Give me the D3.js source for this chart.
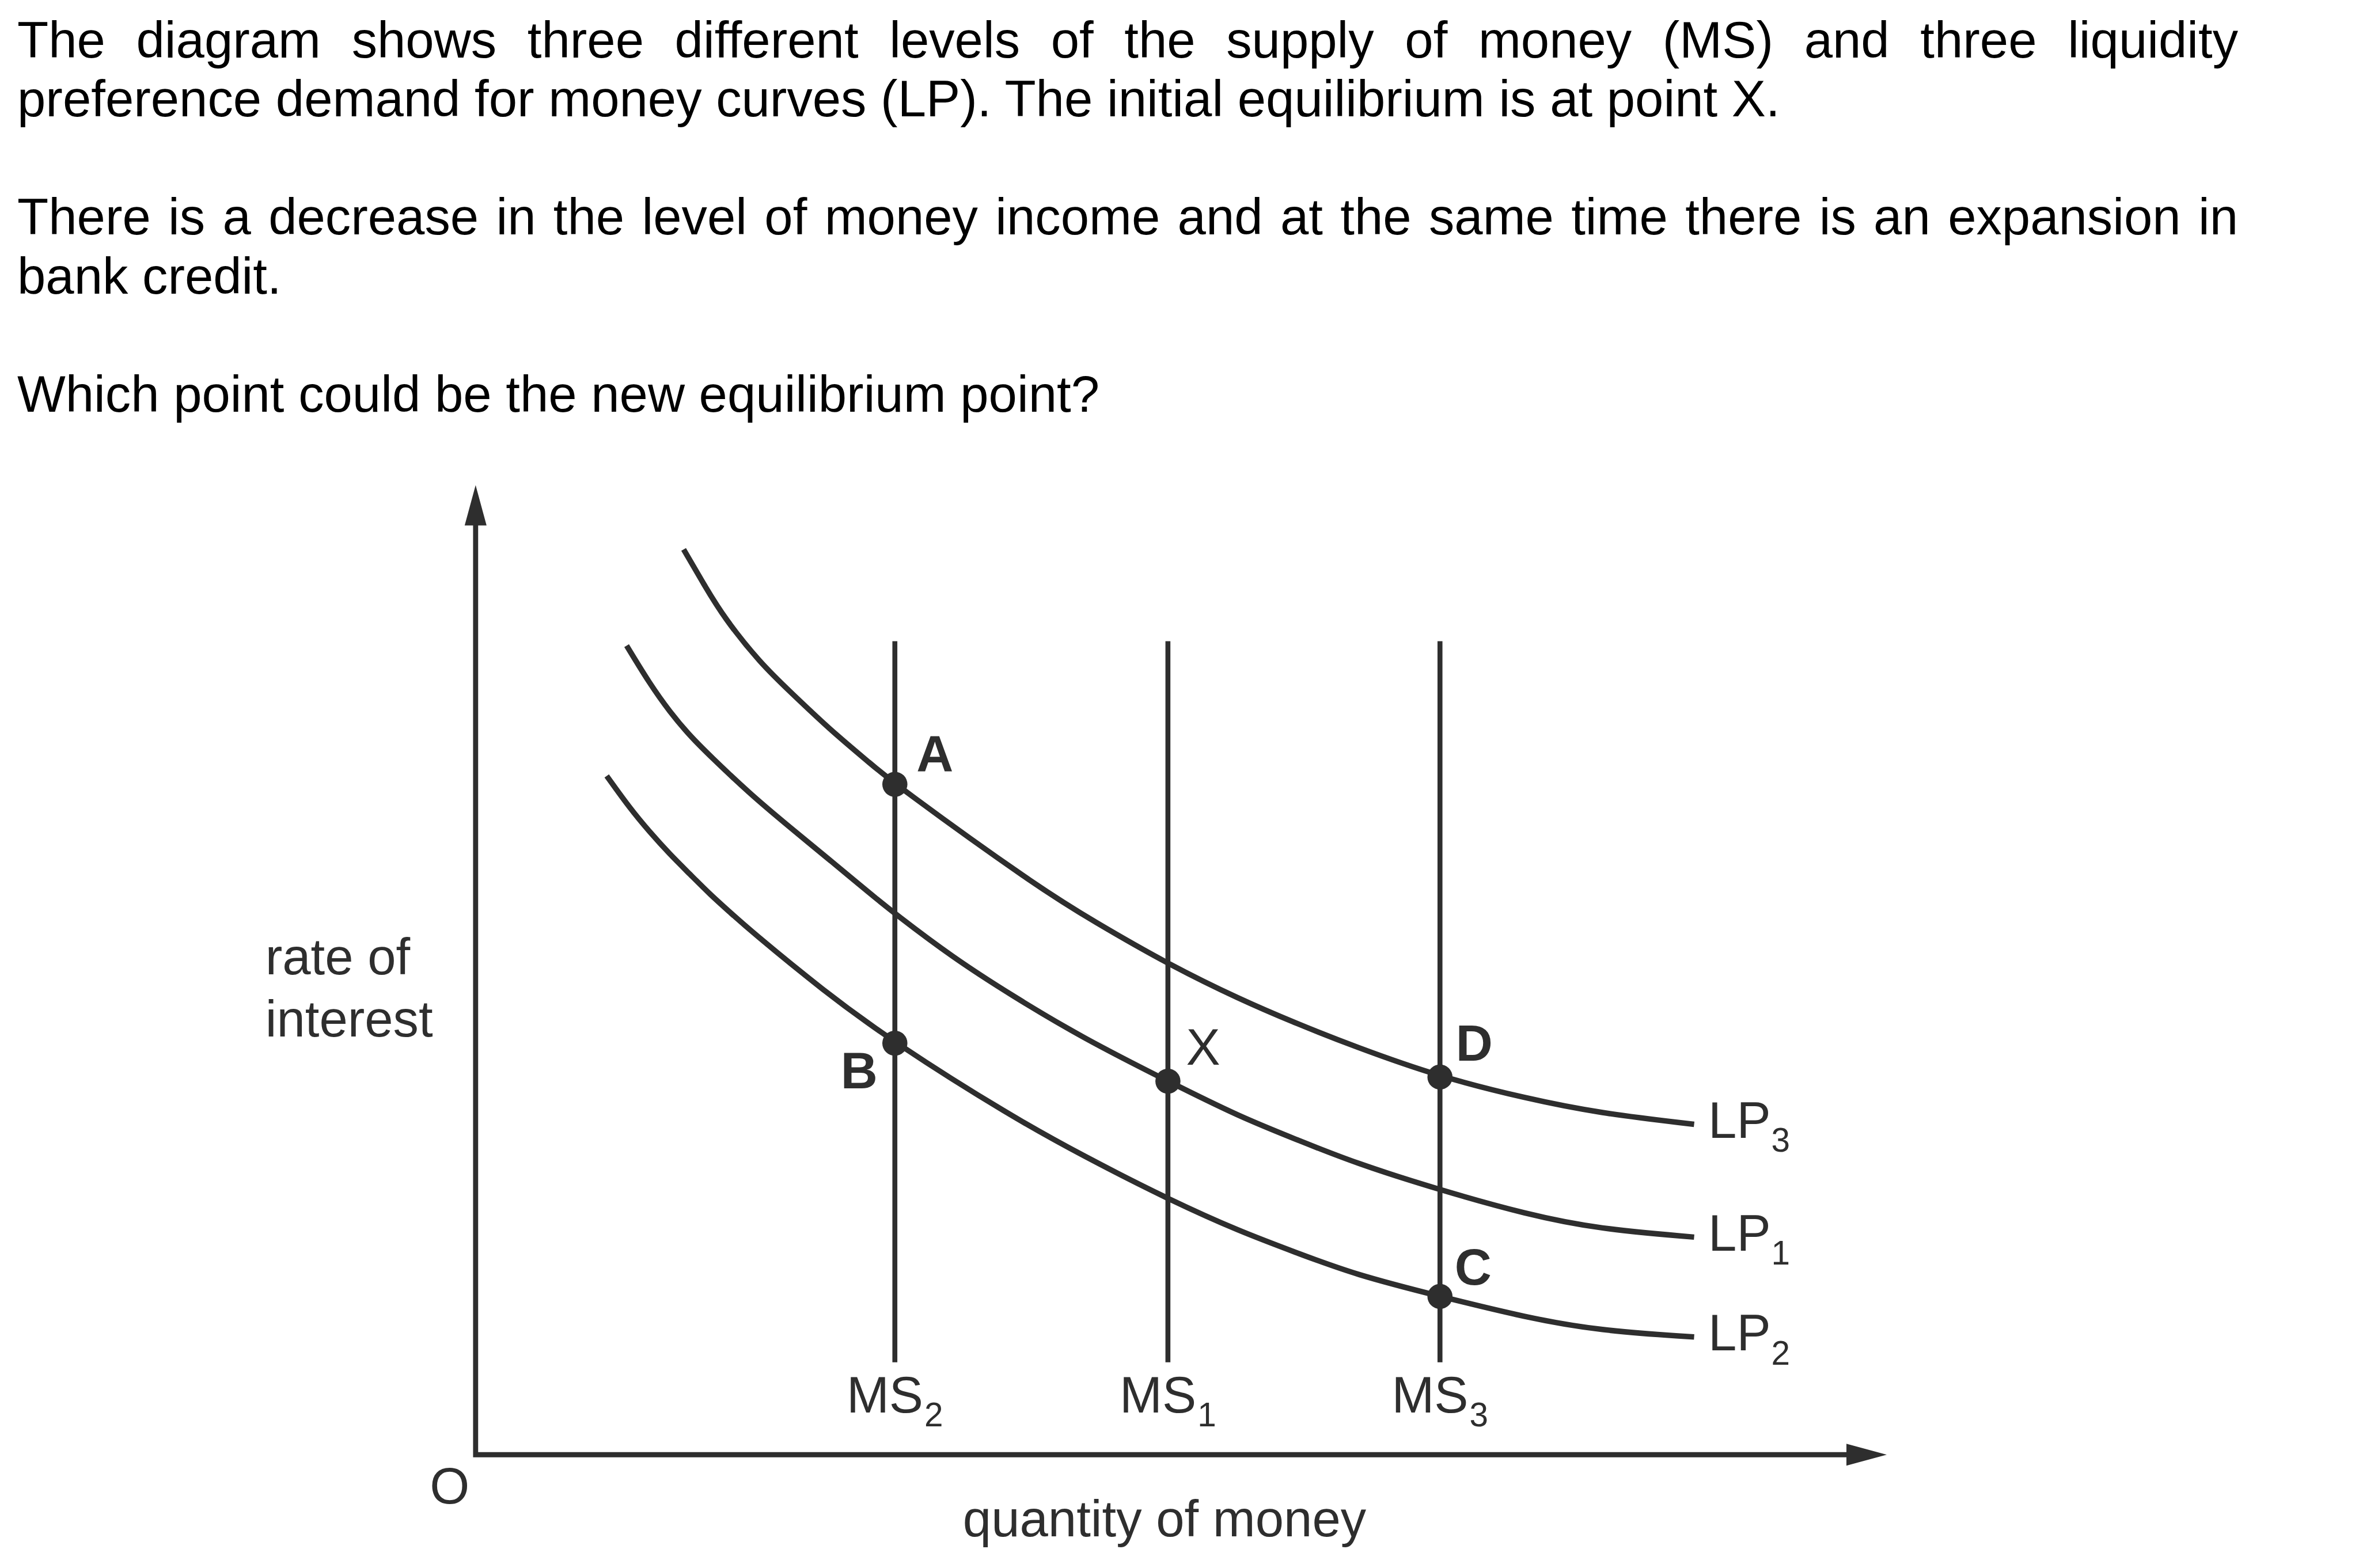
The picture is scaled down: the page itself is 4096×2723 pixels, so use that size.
<!DOCTYPE html>
<html>
<head>
<meta charset="utf-8">
<script src="https://cdn.jsdelivr.net/npm/d3@7"></script>
<style>
  html, body { margin: 0; padding: 0; background: #ffffff; }
  svg { display: block; }
</style>
</head>
<body>
<script>
// ---------------- data ----------------
const questionLines = [
  "The diagram shows three different levels of the supply of money (MS) and three liquidity",
  "preference demand for money curves (LP). The initial equilibrium is at point X.",
  "There is a decrease in the level of money income and at the same time there is an expansion in",
  "bank credit.",
  "Which point could be the new equilibrium point?"
];
const questionJustified = [true, false, true, false, false];
const questionLineIndex = [0, 1, 3, 4, 6];   // line slots (blank slots are paragraph gaps)

const msNames = ["MS", "MS", "MS"];
const msSubs = ["2", "1", "3"];
const msValues = [29.71, 49.06, 68.34];
const msExtent = [9.53, 83.9];

const lpNames = ["LP", "LP", "LP"];
const lpSubs = ["3", "1", "2"];
const lp3 = [[14.74,93.36],[16.2,89.7],[17.60,86.33],[20.2,81.6],[22.29,78.69],[25.13,74.75],
             [27.97,71.3],[29.71,69.14],[39.77,58.6],[43.81,55.0],[49.06,50.6],[54.16,46.96],
             [58.22,44.44],[62.28,42.10],[68.34,38.95],[74.49,36.73],[79.57,35.23],[86.35,34.07]];
const lp1 = [[10.70,83.44],[12.34,79.51],[13.76,76.61],[15.19,74.13],[16.61,72.07],[19.45,68.14],
             [22.29,64.68],[25.13,61.3],[27.97,57.85],[29.71,55.8],[33.8,51.3],[37.92,47.43],
             [43.0,43.0],[49.06,38.52],[54.16,34.84],[58.22,32.48],[62.28,30.1],[68.34,27.3],
             [74.49,24.78],[79.57,23.28],[86.35,22.44]];
const lp2 = [[9.29,70.0],[10.92,66.69],[12.34,64.21],[13.76,61.93],[15.19,59.87],[16.61,57.79],
             [18.03,55.94],[19.45,54.08],[24.6,47.9],[29.71,42.44],[37.92,34.93],[43.0,30.86],
             [49.06,26.36],[54.16,23.02],[58.22,20.81],[62.28,18.59],[68.34,16.32],[74.49,14.13],
             [79.57,12.80],[86.35,12.14]];
const lpCurves = [lp3, lp1, lp2];

const pointNames = ["A", "B", "X", "D", "C"];
const pointX = [29.71, 29.71, 49.06, 68.34, 68.34];
const pointY = [69.14, 42.44, 38.52, 38.95, 16.32];
const pointBold = [true, true, false, true, true];

const yAxisLabel = ["rate of", "interest"];
const xAxisLabel = "quantity of money";
const originLabel = "O";

// ---------------- layout ----------------
const W = 4096, H = 2723, s = 0.975;
const FONT = "'Liberation Sans', Arial, Helvetica, sans-serif";
const fs = 91 * s;          // main font size
const fsSub = 60 * s;       // subscript size
const ink = "#2e2e2e";

const svg = d3.select("body").append("svg")
  .attr("width", W).attr("height", H)
  .attr("viewBox", `0 0 ${W} ${H}`);
svg.append("rect").attr("width", W).attr("height", H).attr("fill", "#fff");

// ---- question text ----
const textLeft = 30, textRight = 3886, firstBase = 99.5, lineH = 102.6;
const qg = svg.append("g").attr("font-family", FONT).attr("font-size", fs).attr("fill", "#000");
const measurer = svg.append("text").attr("font-family", FONT).attr("font-size", fs)
  .attr("visibility", "hidden");
function measure(str) { measurer.text(str); return measurer.node().getComputedTextLength(); }

questionLines.forEach((line, i) => {
  const base = firstBase + questionLineIndex[i] * lineH;
  if (questionJustified[i]) {
    const words = line.split(" ");
    const widths = words.map(measure);
    const total = d3.sum(widths);
    const gap = (textRight - textLeft - total) / (words.length - 1);
    let cx = textLeft;
    const t = qg.append("text").attr("y", base);
    words.forEach((w, k) => {
      t.append("tspan").attr("x", cx).text(w);
      cx += widths[k] + gap;
    });
  } else {
    qg.append("text").attr("x", textLeft).attr("y", base).text(line);
  }
});
measurer.remove();

// ---- scales ----
const x = d3.scaleLinear().domain([0, 100]).range([847 * s, 3360 * s]);
const y = d3.scaleLinear().domain([0, 100]).range([2591 * s, 864 * s]);

const chart = svg.append("g");

// ---- axes with arrow heads ----
const arrLen = 70, arrHalf = 19;
chart.append("path")
  .attr("d", `M${x(0)},${y(100) + arrLen - 2} L${x(0)},${y(0)} L${x(100) - arrLen + 2},${y(0)}`)
  .attr("fill", "none").attr("stroke", ink).attr("stroke-width", 8.8)
  .attr("stroke-linejoin", "miter").attr("stroke-linecap", "square");
chart.append("path")
  .attr("d", `M${x(0)},${y(100)} L${x(0) - arrHalf},${y(100) + arrLen} L${x(0) + arrHalf},${y(100) + arrLen} Z`)
  .attr("fill", ink);
chart.append("path")
  .attr("d", `M${x(100)},${y(0)} L${x(100) - arrLen},${y(0) - arrHalf} L${x(100) - arrLen},${y(0) + arrHalf} Z`)
  .attr("fill", ink);

// ---- money supply lines ----
chart.selectAll("line.ms").data(msValues).join("line")
  .attr("class", "ms")
  .attr("x1", d => x(d)).attr("x2", d => x(d))
  .attr("y1", y(msExtent[1])).attr("y2", y(msExtent[0]))
  .attr("stroke", ink).attr("stroke-width", 8.6);

// ---- LP curves ----
const lineGen = d3.line().x(d => x(d[0])).y(d => y(d[1])).curve(d3.curveBasis);
chart.selectAll("path.lp").data(lpCurves).join("path")
  .attr("class", "lp")
  .attr("d", lineGen)
  .attr("fill", "none").attr("stroke", ink).attr("stroke-width", 9.5);

// ---- points ----
chart.selectAll("circle.pt").data(pointNames).join("circle")
  .attr("class", "pt")
  .attr("cx", (d, i) => x(pointX[i])).attr("cy", (d, i) => y(pointY[i]))
  .attr("r", 21.8).attr("fill", ink);

// point labels
const ptOffsets = {A: [37.5, -22.4, "start"], B: [-30, 78, "end"], X: [31.5, -28.8, "start"],
                   D: [27.5, -28.3, "start"], C: [25.5, -20.8, "start"]};
const lg = chart.append("g").attr("font-family", FONT).attr("font-size", fs).attr("fill", ink);
pointNames.forEach((n, i) => {
  const o = ptOffsets[n];
  lg.append("text")
    .attr("x", x(pointX[i]) + o[0]).attr("y", y(pointY[i]) + o[1])
    .attr("text-anchor", o[2])
    .attr("font-weight", pointBold[i] ? "bold" : "normal")
    .text(n);
});

// LP labels at curve ends
lpCurves.forEach((c, i) => {
  const end = c[c.length - 1];
  const t = lg.append("text")
    .attr("x", x(end[0]) + 24.5).attr("y", y(end[1]) + 23.5);
  t.append("tspan").text(lpNames[i]);
  t.append("tspan").attr("font-size", fsSub).attr("dx", 1).attr("dy", 24.4).text(lpSubs[i]);
});

// MS labels
msValues.forEach((v, i) => {
  const t = lg.append("text")
    .attr("x", x(v)).attr("y", y(msExtent[0]) + 87.5)
    .attr("text-anchor", "middle");
  t.append("tspan").text(msNames[i]);
  t.append("tspan").attr("font-size", fsSub).attr("dx", 2).attr("dy", 23.9).text(msSubs[i]);
});

// axis labels
const yl = lg.append("text").attr("x", 460.7).attr("y", 1692.3);
yl.append("tspan").attr("x", 460.7).text(yAxisLabel[0]);
yl.append("tspan").attr("x", 460.7).attr("dy", 107.3).text(yAxisLabel[1]);

lg.append("text").attr("x", x(0) - 45).attr("y", y(0) + 85)
  .attr("text-anchor", "middle").text(originLabel);

lg.append("text").attr("x", 2022).attr("y", y(0) + 142)
  .attr("text-anchor", "middle").text(xAxisLabel);
</script>
</body>
</html>
